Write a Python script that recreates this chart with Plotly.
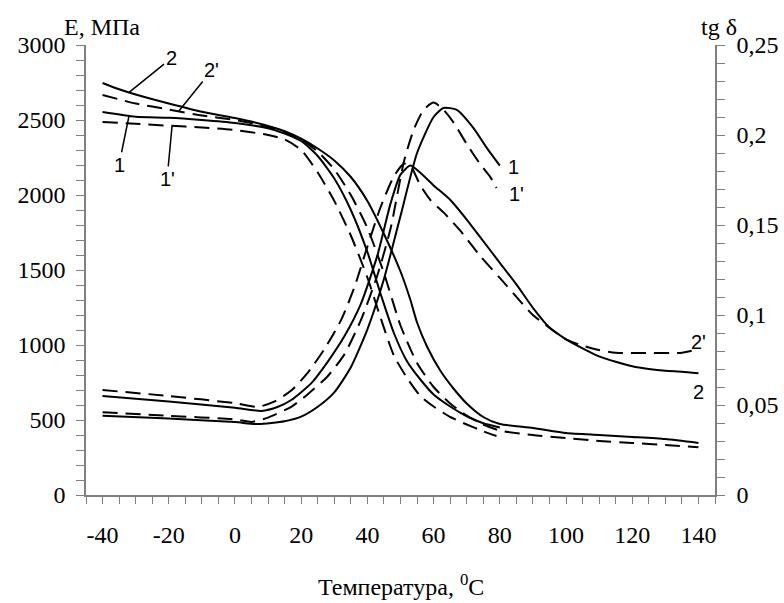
import numpy as np
import plotly.graph_objects as go

# ---------------- data ----------------
# Modulus E, MPa (left axis)
t_E1 = [-40, -30, -20, -10, 0, 10, 15, 20, 25, 30, 35, 40, 44, 48, 52, 56, 60, 65, 70, 75, 80]
E1 = [2553, 2522, 2515, 2500, 2480, 2445, 2410, 2360, 2260, 2110, 1900, 1620, 1340, 1080, 890, 770, 670, 590, 525, 478, 450]
t_E1p = [-40, -30, -20, -10, 0, 10, 15, 20, 25, 30, 35, 40, 44, 48, 52, 56, 60, 65, 70, 75, 79]
E1p = [2487, 2475, 2462, 2450, 2433, 2400, 2370, 2300, 2150, 1960, 1730, 1450, 1180, 930, 780, 660, 590, 520, 470, 425, 393]
t_E2 = [-40, -35, -30, -20, -10, 0, 9, 15, 20, 25, 30, 35, 40, 45, 50, 53, 55, 58, 62, 66, 70, 75, 80, 90, 100, 110, 120, 130, 140]
E2 = [2747, 2705, 2670, 2610, 2555, 2513, 2467, 2425, 2375, 2310, 2230, 2120, 1960, 1740, 1490, 1300, 1150, 990, 830, 710, 610, 520, 473, 447, 413, 400, 387, 373, 347]
t_E2p = [-40, -30, -20, -10, 0, 10, 15, 20, 25, 30, 35, 40, 45, 50, 55, 60, 65, 70, 75, 80, 90, 100, 110, 120, 130, 140]
E2p = [2667, 2610, 2570, 2530, 2500, 2455, 2420, 2370, 2290, 2170, 2000, 1780, 1480, 1130, 880, 720, 610, 530, 470, 430, 400, 380, 360, 347, 333, 318]

# Loss tangent tg delta (right axis)
t_D1 = [-40, -20, 0, 7, 15, 20, 25, 30, 35, 40, 45, 50, 55, 60, 63, 67, 72, 76, 80]
D1 = [0.044, 0.0425, 0.0405, 0.0394, 0.041, 0.0435, 0.049, 0.057, 0.071, 0.092, 0.12, 0.155, 0.19, 0.21, 0.215, 0.214, 0.204, 0.193, 0.183]
t_D1p = [-40, -20, 0, 5, 10, 17, 22, 28, 33, 38, 43, 47, 51, 54, 57, 60, 63, 66, 70, 74, 77, 79]
D1p = [0.046, 0.044, 0.042, 0.0406, 0.043, 0.049, 0.056, 0.066, 0.078, 0.097, 0.122, 0.148, 0.185, 0.203, 0.214, 0.218, 0.214, 0.207, 0.195, 0.184, 0.177, 0.1705]
t_D2 = [-40, -20, 0, 8, 13, 17, 23, 28, 33, 38, 43, 47, 50, 53, 56, 60, 65, 70, 75, 80, 85, 90, 95, 100, 105, 110, 115, 120, 125, 130, 135, 140]
D2 = [0.055, 0.052, 0.0485, 0.0467, 0.049, 0.0528, 0.062, 0.074, 0.088, 0.106, 0.133, 0.162, 0.178, 0.183, 0.179, 0.172, 0.164, 0.153, 0.141, 0.129, 0.117, 0.104, 0.093, 0.0865, 0.0815, 0.077, 0.074, 0.0715, 0.070, 0.069, 0.0685, 0.0677]
t_D2p = [-40, -20, 0, 7, 12, 17, 22, 27, 32, 36, 40, 44, 48, 51, 53, 56, 59, 63, 68, 74, 80, 86, 90, 96, 100, 105, 110, 115, 125, 135, 140]
D2p = [0.0583, 0.055, 0.051, 0.049, 0.052, 0.058, 0.068, 0.081, 0.097, 0.115, 0.138, 0.16, 0.177, 0.184, 0.183, 0.172, 0.164, 0.157, 0.147, 0.133, 0.1206, 0.108, 0.100, 0.0915, 0.0865, 0.083, 0.0805, 0.079, 0.0789, 0.079, 0.081]

x_ticks = [-40, -20, 0, 20, 40, 60, 80, 100, 120, 140]
y_ticks = [0, 500, 1000, 1500, 2000, 2500, 3000]
y2_ticks = [0, 0.05, 0.1, 0.15, 0.2, 0.25]
y2_text = ["0", "0,05", "0,1", "0,15", "0,2", "0,25"]

# ---------------- figure ----------------
SERIF = "Times New Roman, Liberation Serif, Tinos, serif"
SANS = "Arial, Liberation Sans, sans-serif"
AX = "#808080"
DASH = "15px,8px"

fig = go.Figure()
common = dict(mode="lines", line_shape="spline", hoverinfo="skip", showlegend=False)
fig.add_trace(go.Scatter(x=t_E2, y=E2, line=dict(color="black", width=2, smoothing=0.6), **common))
fig.add_trace(go.Scatter(x=t_E2p, y=E2p, line=dict(color="black", width=2, dash=DASH, smoothing=0.6), **common))
fig.add_trace(go.Scatter(x=t_E1, y=E1, line=dict(color="black", width=2, smoothing=0.6), **common))
fig.add_trace(go.Scatter(x=t_E1p, y=E1p, line=dict(color="black", width=2, dash=DASH, smoothing=0.6), **common))

fig.add_trace(go.Scatter(x=t_D1, y=D1, yaxis="y2", line=dict(color="black", width=2, smoothing=0.6), **common))
fig.add_trace(go.Scatter(x=t_D1p, y=D1p, yaxis="y2", line=dict(color="black", width=2, dash=DASH, smoothing=0.6), **common))
fig.add_trace(go.Scatter(x=t_D2, y=D2, yaxis="y2", line=dict(color="black", width=2, smoothing=0.6), **common))
fig.add_trace(go.Scatter(x=t_D2p, y=D2p, yaxis="y2", line=dict(color="black", width=2, dash=DASH, smoothing=0.6), **common))

fig.update_layout(
    width=784, height=603,
    margin=dict(l=86, r=69, t=45, b=108, autoexpand=False),
    paper_bgcolor="white", plot_bgcolor="white",
    font=dict(family=SERIF, size=24, color="black"),
    xaxis=dict(
        range=[-45, 145], showgrid=False, zeroline=False, automargin=False,
        showline=True, linecolor=AX, linewidth=1.5,
        tickmode="array", tickvals=x_ticks, ticktext=[str(v) for v in x_ticks],
        ticks="outside", ticklen=7, tickcolor=AX, tickwidth=1.2,
        ticklabelstandoff=10,
        minor=dict(tickmode="linear", tick0=-45, dtick=5, ticks="outside", ticklen=7, tickcolor=AX, tickwidth=1.2),
        tickfont=dict(family=SERIF, size=24, color="black"),
    ),
    yaxis=dict(
        range=[0, 3000], showgrid=False, zeroline=False, automargin=False,
        showline=True, linecolor=AX, linewidth=1.5,
        tickmode="array", tickvals=y_ticks, ticktext=[str(v) for v in y_ticks],
        ticks="outside", ticklen=8, tickcolor=AX, tickwidth=1.2,
        ticklabelstandoff=6,
        minor=dict(tickmode="linear", tick0=0, dtick=100, ticks="outside", ticklen=8, tickcolor=AX, tickwidth=1.2),
        tickfont=dict(family=SERIF, size=24, color="black"),
    ),
    yaxis2=dict(
        range=[0, 0.25], overlaying="y", side="right", showgrid=False, zeroline=False, automargin=False,
        showline=True, linecolor=AX, linewidth=1.5,
        tickmode="array", tickvals=y2_ticks, ticktext=y2_text,
        ticks="outside", ticklen=8, tickcolor=AX, tickwidth=1.2,
        ticklabelstandoff=7,
        minor=dict(tickmode="linear", tick0=0, dtick=0.01, ticks="outside", ticklen=8, tickcolor=AX, tickwidth=1.2),
        tickfont=dict(family=SERIF, size=24, color="black"),
    ),
)

# axis titles
fig.add_annotation(text="E, МПа", xref="paper", yref="paper", x=0.026, y=1.04,
                   xanchor="center", yanchor="middle", showarrow=False,
                   font=dict(family=SERIF, size=24, color="black"))
fig.add_annotation(text="tg δ", xref="paper", yref="paper", x=1.006, y=1.04,
                   xanchor="center", yanchor="middle", showarrow=False,
                   font=dict(family=SERIF, size=24, color="black"))
fig.add_annotation(text="Температура, <sup>0</sup>C", xref="paper", yref="paper", x=0.5, y=-0.2,
                   xanchor="center", yanchor="middle", showarrow=False,
                   font=dict(family=SERIF, size=24, color="black"))

# curve labels with leader lines (E curves)
lab = dict(showarrow=True, arrowhead=0, arrowwidth=1.5, arrowcolor="black",
           font=dict(family=SANS, size=20, color="black"), xref="x", yref="y")
fig.add_annotation(text="2", x=-32, y=float(np.interp(-32, t_E2, E2)), ax=42, ay=-34, **lab)
fig.add_annotation(text="2'", x=-17, y=float(np.interp(-17, t_E2p, E2p)), ax=33, ay=-41, **lab)
fig.add_annotation(text="1", x=-32, y=float(np.interp(-32, t_E1, E1)), ax=-10, ay=49, **lab)
fig.add_annotation(text="1'", x=-19, y=float(np.interp(-19, t_E1p, E1p)), ax=-5, ay=53, **lab)

# curve labels at the ends (tg delta curves)
endlab = dict(showarrow=False, font=dict(family=SANS, size=20, color="black"), xref="x", yref="y2")
fig.add_annotation(text="1", x=84, y=0.182, **endlab)
fig.add_annotation(text="1'", x=85, y=0.167, **endlab)
fig.add_annotation(text="2'", x=140, y=0.085, **endlab)
fig.add_annotation(text="2", x=140, y=0.057, **endlab)

fig.write_html("out.html", config={"displayModeBar": False},
               post_script="document.body.style.margin='0';document.body.style.overflow='hidden';")
